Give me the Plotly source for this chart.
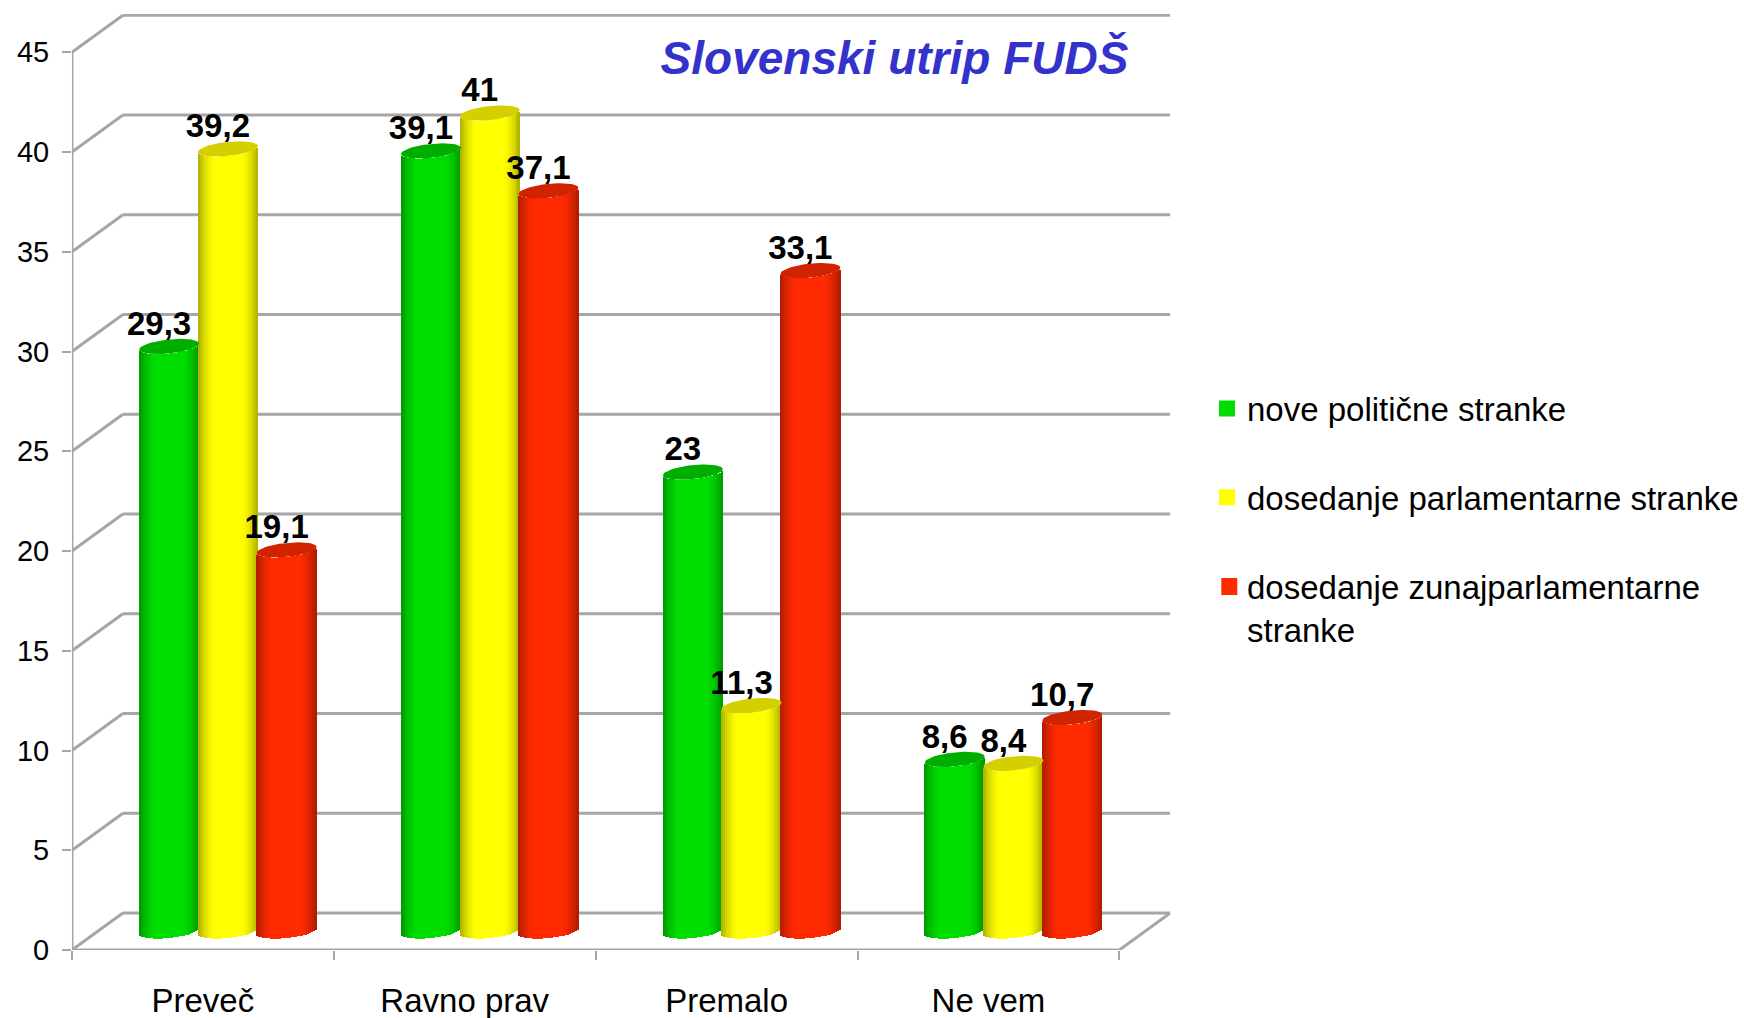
import numpy as np
import plotly.graph_objects as go

categories = ["Preveč", "Ravno prav", "Premalo", "Ne vem"]
series_names = ["nove politične stranke", "dosedanje parlamentarne stranke", "dosedanje zunajparlamentarne<br>stranke"]
values_new = [29.3, 39.1, 23, 8.6]
values_parl = [39.2, 41, 11.3, 8.4]
values_extra = [19.1, 37.1, 33.1, 10.7]
y_ticks = [0, 5, 10, 15, 20, 25, 30, 35, 40, 45]
title_text = "Slovenski utrip FUDŠ"

base_colors = [(0, 221, 0), (255, 255, 0), (255, 42, 0)]
cap_colors = ["#00AE00", "#D4D000", "#D02400"]
series_values = [values_new, values_parl, values_extra]

W, H = 1744, 1018
X0, X_BACK, X_END = 72, 123, 1171
Y0, Y_TOP = 950, 14
PX_CAT = 262
PX_UNIT = 19.95
cat_px = lambda p: p / PX_CAT
unit_px = lambda p: p / PX_UNIT

depth_x = cat_px(X_BACK - X0)
depth_y = unit_px(37)
bar_floor = unit_px(19)
group_shift = cat_px(25)
bar_step = cat_px(58.8)
half_w = cat_px(30)
cap_b = unit_px(7)
cap_tilt = unit_px(3)
label_dx = cat_px(-10)
label_dy = unit_px(20)
N_STRIPS = 30
n_cat = len(categories)


def shade(rgb, u):
    t = abs(u)
    f = 1 - 0.32 * max(0, (t - 0.45) / 0.55) ** 1.6
    return "rgb({},{},{})".format(*[int(c * f) for c in rgb])


def fmt(v):
    return str(v).replace(".", ",")


fig = go.Figure()
strip_edges = np.linspace(-1, 1, N_STRIPS + 1)
for s, vals in enumerate(series_values):
    centers = np.arange(n_cat) + 0.5 + group_shift + (s - 1) * bar_step
    for i in range(N_STRIPS):
        u = (strip_edges[i] + strip_edges[i + 1]) / 2
        arc = -cap_b * np.sqrt(max(0, 1 - u ** 2)) + cap_tilt * u
        fig.add_trace(go.Bar(
            x=centers + u * half_w,
            y=vals,
            base=[bar_floor + arc] * n_cat,
            width=(strip_edges[1] - strip_edges[0]) * half_w * 1.25,
            marker=dict(color=shade(base_colors[s], u), line=dict(width=0)),
            showlegend=False, hoverinfo="skip",
        ))

theta = np.linspace(0, 2 * np.pi, 60)
for s, vals in enumerate(series_values):
    centers = np.arange(n_cat) + 0.5 + group_shift + (s - 1) * bar_step
    xs, ys = [], []
    for c, v in zip(centers, vals):
        xs += list(c + half_w * np.cos(theta)) + [None]
        ys += list(v + bar_floor + cap_b * np.sin(theta) + cap_tilt * np.cos(theta)) + [None]
    fig.add_trace(go.Scatter(x=xs, y=ys, mode="lines", fill="toself", fillcolor=cap_colors[s],
                             line=dict(width=0), showlegend=False, hoverinfo="skip"))

for s, vals in enumerate(series_values):
    centers = np.arange(n_cat) + 0.5 + group_shift + (s - 1) * bar_step
    fig.add_trace(go.Scatter(
        x=centers + label_dx, y=np.array(vals) + bar_floor + label_dy,
        mode="text", text=[fmt(v) for v in vals], textposition="middle center",
        textfont=dict(family="Liberation Sans", size=33, color="black", weight=700),
        showlegend=False, hoverinfo="skip", cliponaxis=False,
    ))

for s, name in enumerate(series_names):
    rgb = base_colors[s]
    # The two-line entry keeps its swatch on the first line via a paper-anchored square below.
    alpha = 0 if "<br>" in name else 1
    fig.add_trace(go.Scatter(
        x=[None], y=[None], mode="markers", name=name, legendgroup=f"g{s}",
        marker=dict(symbol="square", size=17, color="rgba({},{},{},{})".format(*rgb, alpha), line=dict(width=0)),
    ))

GRID = "#A6A6A6"
line = dict(color=GRID, width=3)
shapes = []
x_last = float(n_cat)
for t in y_ticks:
    shapes.append(dict(type="line", xref="x", yref="y", layer="below", line=line,
                       x0=depth_x, x1=x_last + depth_x, y0=t + depth_y, y1=t + depth_y))
    shapes.append(dict(type="line", xref="x", yref="y", layer="below", line=line,
                       x0=0, x1=depth_x, y0=t, y1=t + depth_y))
shapes.append(dict(type="line", xref="x", yref="y", layer="below", line=line, x0=0, x1=0, y0=0, y1=y_ticks[-1]))
shapes.append(dict(type="line", xref="x", yref="y", layer="below", line=line, x0=0, x1=x_last, y0=0, y1=0))
shapes.append(dict(type="line", xref="x", yref="y", layer="below", line=line, x0=x_last, x1=x_last + depth_x, y0=0, y1=depth_y))
shapes.append(dict(type="rect", xref="paper", yref="paper", line=dict(width=0),
                   fillcolor="rgb({},{},{})".format(*base_colors[2]),
                   x0=1222 / W, x1=1238 / W, y0=1 - 595 / H, y1=1 - 578 / H))

fig.update_layout(
    width=W, height=H, autosize=False,
    margin=dict(l=0, r=0, t=0, b=0),
    paper_bgcolor="white", plot_bgcolor="rgba(0,0,0,0)",
    barmode="overlay", bargap=0,
    shapes=shapes,
    font=dict(family="Liberation Sans", color="black"),
    title=dict(text=title_text, x=895 / W, y=1 - 58 / H, xref="paper", yref="paper",
               xanchor="center", yanchor="middle", automargin=False,
               font=dict(family="Liberation Sans", size=46, color="#3333CC", weight=700, style="italic")),
    xaxis=dict(domain=[X0 / W, X_END / W], range=[0, (X_END - X0) / PX_CAT], automargin=False,
               tickmode="array", tickvals=[i + 0.5 for i in range(n_cat)], ticktext=categories,
               ticks="", showgrid=False, zeroline=False, showline=False,
               tickfont=dict(size=33, family="Liberation Sans"), ticklabelstandoff=28,
               minor=dict(tick0=0, dtick=1, ticks="outside", ticklen=9, tickwidth=2, tickcolor=GRID, showgrid=False)),
    yaxis=dict(domain=[1 - Y0 / H, 1 - Y_TOP / H], range=[0, (Y0 - Y_TOP) / PX_UNIT], automargin=False,
               tickmode="array", tickvals=y_ticks, ticks="outside", ticklen=9, tickwidth=2, tickcolor=GRID,
               showgrid=False, zeroline=False, showline=False,
               tickfont=dict(size=29, family="Liberation Sans"), ticklabelstandoff=7),
    legend=dict(x=1208 / W, xanchor="left", y=1 - 380.5 / H, yanchor="top",
                font=dict(size=33, family="Liberation Sans"), tracegroupgap=43,
                itemsizing="trace", bgcolor="rgba(0,0,0,0)", borderwidth=0),
)

fig.write_html("out.html", config=dict(displayModeBar=False), post_script="document.body.style.margin='0';")
